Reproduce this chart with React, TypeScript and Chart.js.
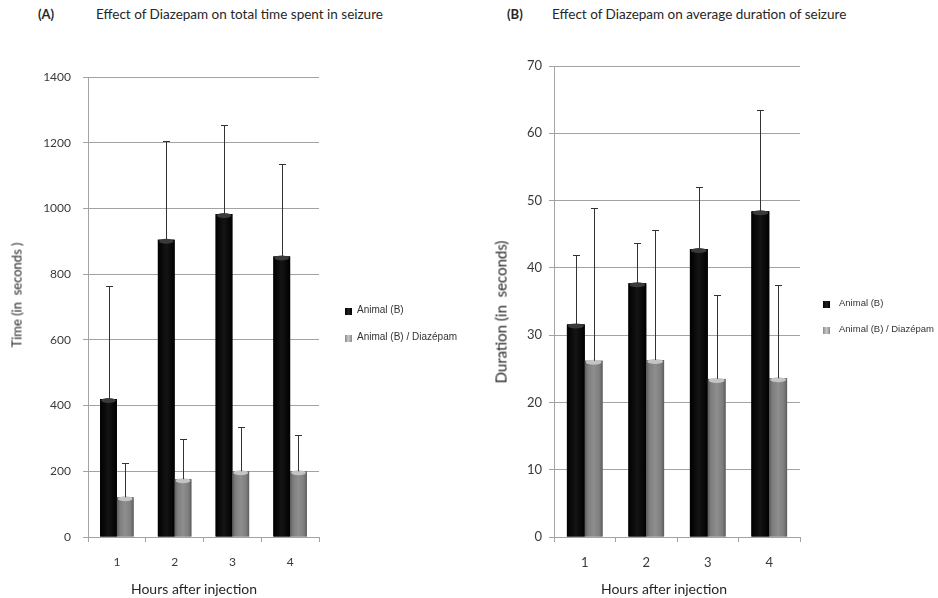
import React, { useEffect, useRef } from "react";
import { Chart, registerables } from "chart.js";
Chart.register(...registerables);

// ---------- data ----------
const hours = ["1", "2", "3", "4"];

// Panel A: total time spent in seizure (seconds)
const timeAnimal = [420, 905, 983, 854];
const timeAnimalErr = [765, 1205, 1253, 1135];
const timeDiazepam = [121, 176, 200, 200];
const timeDiazepamErr = [224, 297, 334, 310];
const timeMax = 1400;
const timeStep = 200;

// Panel B: average duration of seizure (seconds)
const durAnimal = [31.6, 37.7, 42.8, 48.4];
const durAnimalErr = [41.9, 43.7, 52.0, 63.5];
const durDiazepam = [26.2, 26.3, 23.5, 23.6];
const durDiazepamErr = [48.9, 45.6, 36.0, 37.4];
const durMax = 70;
const durStep = 10;

const seriesNames = ["Animal (B)", "Animal (B) / Diazépam"];

// ---------- styling helpers ----------
const GRID = "#a3a3a3";
const FONT = "Lato, 'Open Sans', sans-serif";

const barStylePlugin = {
  id: "barStyle",
  afterDatasetsDraw(chart: any) {
    const ctx = chart.ctx;
    const yScale = chart.scales.y;
    chart.data.datasets.forEach((ds: any, di: number) => {
      const meta = chart.getDatasetMeta(di);
      meta.data.forEach((bar: any) => {
        const { x, y, base, width } = bar.getProps(["x", "y", "base", "width"], true);
        const l = x - width / 2;
        const r = x + width / 2;
        const g = ctx.createLinearGradient(l, 0, r, 0);
        if (ds.shade === "black") {
          g.addColorStop(0, "#000000");
          g.addColorStop(0.5, "#141414");
          g.addColorStop(1, "#000000");
        } else {
          g.addColorStop(0, "#5c5c5c");
          g.addColorStop(0.18, "#7e7e7e");
          g.addColorStop(0.5, "#8e8e8e");
          g.addColorStop(0.82, "#7e7e7e");
          g.addColorStop(1, "#5c5c5c");
        }
        ctx.save();
        ctx.fillStyle = g;
        ctx.fillRect(l, y, width, base - y);
        ctx.beginPath();
        ctx.ellipse(x, y + 1.5, width / 2 - 1, 2.5, 0, 0, Math.PI * 2);
        ctx.fillStyle = ds.shade === "black" ? "#3a3a3a" : "#c4c4c4";
        ctx.fill();
        ctx.restore();
      });
    });
    chart.data.datasets.forEach((ds: any, di: number) => {
      const meta = chart.getDatasetMeta(di);
      const errs: number[] = ds.errorTop || [];
      meta.data.forEach((bar: any, i: number) => {
        if (errs[i] == null) return;
        const { x, y } = bar.getProps(["x", "y"], true);
        const ey = yScale.getPixelForValue(errs[i]);
        const cx = Math.round(x) + 0.5;
        const cy = Math.round(ey) + 0.5;
        ctx.save();
        ctx.strokeStyle = "#333333";
        ctx.lineWidth = 1;
        ctx.beginPath();
        ctx.moveTo(cx, y);
        ctx.lineTo(cx, cy);
        ctx.moveTo(cx - 3.5, cy);
        ctx.lineTo(cx + 3.5, cy);
        ctx.stroke();
        ctx.restore();
      });
    });
  },
};

type PanelProps = {
  left: number;
  width: number;
  a: number[];
  aErr: number[];
  b: number[];
  bErr: number[];
  max: number;
  step: number;
  padTop: number;
  padRight: number;
  yWidth: number;
  tickPad: number;
  tickSize: number;
};

function Panel(p: PanelProps) {
  const ref = useRef<HTMLCanvasElement | null>(null);
  useEffect(() => {
    if (!ref.current) return;
    const chart = new Chart(ref.current, {
      type: "bar",
      data: {
        labels: hours,
        datasets: [
          {
            label: seriesNames[0],
            data: p.a,
            backgroundColor: "#000000",
            barPercentage: 1,
            categoryPercentage: 0.58,
            errorTop: p.aErr,
            shade: "black",
          } as any,
          {
            label: seriesNames[1],
            data: p.b,
            backgroundColor: "#888888",
            barPercentage: 1,
            categoryPercentage: 0.58,
            errorTop: p.bErr,
            shade: "gray",
          } as any,
        ],
      },
      options: {
        responsive: false,
        animation: false,
        devicePixelRatio: 1,
        layout: { padding: { top: p.padTop, right: p.padRight, bottom: 0, left: 0 } },
        plugins: { legend: { display: false }, tooltip: { enabled: false } },
        scales: {
          x: {
            afterFit: (s: any) => {
              s.height = 61;
            },
            grid: { drawOnChartArea: false, color: GRID, tickLength: 5 },
            border: { color: GRID },
            ticks: {
              color: "#3a3a3a",
              padding: 13,
              font: { family: FONT, size: p.tickSize },
            },
          },
          y: {
            min: 0,
            max: p.max,
            afterFit: (s: any) => {
              s.width = p.yWidth;
            },
            grid: { color: GRID, tickLength: 5 },
            border: { color: GRID },
            ticks: {
              stepSize: p.step,
              color: "#3a3a3a",
              padding: p.tickPad,
              font: { family: FONT, size: p.tickSize },
              callback: (v: any) => String(v),
            },
          },
        },
      },
      plugins: [barStylePlugin],
    });
    return () => chart.destroy();
  }, []);
  return (
    <canvas
      ref={ref}
      width={p.width}
      height={558}
      style={{ position: "absolute", left: p.left, top: 40, width: p.width, height: 558 }}
    />
  );
}

const textBase: React.CSSProperties = {
  position: "absolute",
  fontFamily: FONT,
  color: "#262626",
  whiteSpace: "pre",
  lineHeight: 1,
};

function Legend({ left, top, gap, textLeft, size }: { left: number; top: number; gap: number; textLeft: number; size: number }) {
  const boxes = [
    "linear-gradient(90deg,#000,#222,#000)",
    "linear-gradient(90deg,#8a8a8a,#c8c8c8,#8a8a8a)",
  ];
  return (
    <>
      {seriesNames.map((n, i) => (
        <React.Fragment key={n}>
          <div
            style={{
              position: "absolute",
              left,
              top: top + i * gap - 3.5,
              width: 7,
              height: 7,
              background: boxes[i],
            }}
          />
          <div
            style={{
              position: "absolute",
              left: textLeft,
              top: top + i * gap - size / 2 - 1,
              fontFamily: "'Liberation Sans', Arial, sans-serif",
              fontSize: size,
              lineHeight: 1,
              color: "#333",
              whiteSpace: "pre",
            }}
          >
            {n}
          </div>
        </React.Fragment>
      ))}
    </>
  );
}

export default function App() {
  return (
    <div
      style={{
        position: "absolute",
        left: 0,
        top: 0,
        width: 938,
        height: 598,
        overflow: "hidden",
        background: "#ffffff",
      }}
    >
      <div style={{ ...textBase, left: 38, top: 8, fontSize: 13, fontWeight: 700 }}>(A)</div>
      <div style={{ ...textBase, left: 96, top: 8, fontSize: 13.5 }}>
        Effect of Diazepam on total time spent in seizure
      </div>
      <div style={{ ...textBase, left: 507, top: 8, fontSize: 13, fontWeight: 700 }}>(B)</div>
      <div style={{ ...textBase, left: 552, top: 8, fontSize: 13.5 }}>
        Effect of Diazepam on average duration of seizure
      </div>

      <Panel
        left={0}
        width={470}
        a={timeAnimal}
        aErr={timeAnimalErr}
        b={timeDiazepam}
        bErr={timeDiazepamErr}
        max={timeMax}
        step={timeStep}
        padTop={37}
        padRight={151}
        yWidth={88}
        tickPad={12}
        tickSize={12}
      />
      <Panel
        left={470}
        width={468}
        a={durAnimal}
        aErr={durAnimalErr}
        b={durDiazepam}
        bErr={durDiazepamErr}
        max={durMax}
        step={durStep}
        padTop={26}
        padRight={138}
        yWidth={84}
        tickPad={7}
        tickSize={13}
      />

      <div
        style={{
          ...textBase,
          left: 17,
          top: 295,
          fontSize: 13,
          transform: "translate(-50%, -50%) rotate(-90deg)",
        }}
      >
        {"Time (in  seconds )"}
      </div>
      <div
        style={{
          ...textBase,
          left: 501,
          top: 312,
          fontSize: 15,
          transform: "translate(-50%, -50%) rotate(-90deg)",
        }}
      >
        {"Duration (in  seconds)"}
      </div>
      <div style={{ ...textBase, left: 194, top: 589, fontSize: 14, transform: "translate(-50%, -50%)" }}>
        Hours after injection
      </div>
      <div style={{ ...textBase, left: 664, top: 589, fontSize: 14, transform: "translate(-50%, -50%)" }}>
        Hours after injection
      </div>

      <Legend left={345} top={311} gap={27} textLeft={357} size={10} />
      <Legend left={823} top={304} gap={26} textLeft={839} size={9.5} />
    </div>
  );
}
